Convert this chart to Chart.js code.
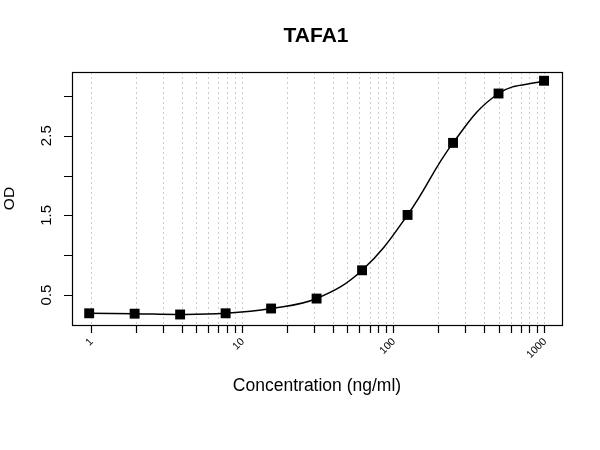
<!DOCTYPE html>
<html>
<head>
<meta charset="utf-8">
<script src="https://cdn.jsdelivr.net/npm/chart.js@4/dist/chart.umd.min.js"></script>
<style>
  html, body { margin: 0; padding: 0; background: #fff; }
  #wrap { width: 600px; height: 450px; }
</style>
</head>
<body>
<div id="wrap"><canvas id="odChart" width="600" height="450"></canvas></div>
<script>
  // standard curve
  const concentrations = [0.977, 1.953, 3.906, 7.8125, 15.625, 31.25, 62.5, 125, 250, 500, 1000];
  const odValues = [0.27, 0.265, 0.255, 0.27, 0.33, 0.455, 0.81, 1.505, 2.41, 3.03, 3.19];

  const xGridValues = [1, 2, 3, 4, 5, 6, 7, 8, 9, 10, 20, 30, 40, 50, 60, 70, 80, 90,
    100, 200, 300, 400, 500, 600, 700, 800, 900, 1000];
  const xTickValues = [1, 10, 100, 1000];
  const xTickLabels = ['1', '10', '100', '1000'];
  const yTickValues = [0.5, 1, 1.5, 2, 2.5, 3];
  const yTickLabels = ['0.5', '', '1.5', '', '2.5', ''];

  const chartTitle = 'TAFA1';
  const xTitle = 'Concentration (ng/ml)';
  const yTitle = 'OD';

  const FONT = '"Liberation Sans", Arial, sans-serif';

  function drawRotated(ctx, text, x, y, angle, align) {
    ctx.save();
    ctx.translate(x, y);
    ctx.rotate(angle);
    ctx.textAlign = align;
    ctx.textBaseline = 'middle';
    ctx.fillText(text, 0, 0);
    ctx.restore();
  }

  const rPlotPlugin = {
    id: 'rPlot',
    beforeDatasetsDraw(chart) {
      const { ctx, chartArea, scales } = chart;
      ctx.save();
      ctx.strokeStyle = '#cccccc';
      ctx.lineWidth = 1;
      ctx.setLineDash([2, 3]);
      xGridValues.forEach((v) => {
        const px = Math.round(scales.x.getPixelForValue(v)) + 0.5;
        ctx.beginPath();
        ctx.moveTo(px, chartArea.top);
        ctx.lineTo(px, chartArea.bottom);
        ctx.stroke();
      });
      ctx.restore();
    },
    afterDatasetsDraw(chart) {
      const { ctx, chartArea, scales } = chart;
      const { left, right, top, bottom } = chartArea;
      ctx.save();
      ctx.strokeStyle = '#000';
      ctx.fillStyle = '#000';
      ctx.lineWidth = 1.2;

      // box
      ctx.strokeRect(left + 0.5, top + 0.5, right - left, bottom - top);

      // x ticks
      ctx.beginPath();
      xGridValues.forEach((v) => {
        const px = Math.round(scales.x.getPixelForValue(v)) + 0.5;
        ctx.moveTo(px, bottom);
        ctx.lineTo(px, bottom + 8);
      });
      // y ticks
      yTickValues.forEach((v) => {
        const py = Math.round(scales.y.getPixelForValue(v)) + 0.5;
        ctx.moveTo(left, py);
        ctx.lineTo(left - 8, py);
      });
      ctx.stroke();

      ctx.font = `10.5px ${FONT}`;
      xTickValues.forEach((v, i) => {
        const px = scales.x.getPixelForValue(v);
        drawRotated(ctx, xTickLabels[i], px + 1, bottom + 15, -Math.PI / 4, 'right');
      });

      ctx.font = `15px ${FONT}`;
      yTickValues.forEach((v, i) => {
        if (!yTickLabels[i]) return;
        const py = scales.y.getPixelForValue(v);
        drawRotated(ctx, yTickLabels[i], left - 25.5, py, -Math.PI / 2, 'center');
      });

      // titles
      const cx = (left + right) / 2;
      ctx.font = `bold 21px ${FONT}`;
      drawRotated(ctx, chartTitle, cx - 1, 36, 0, 'center');
      ctx.font = `17.5px ${FONT}`;
      drawRotated(ctx, xTitle, cx, 386, 0, 'center');
      ctx.font = `15.5px ${FONT}`;
      drawRotated(ctx, yTitle, 9.5, (top + bottom) / 2, -Math.PI / 2, 'center');
      ctx.restore();
    },
  };

  new Chart(document.getElementById('odChart'), {
    type: 'line',
    data: {
      datasets: [{
        data: concentrations.map((c, i) => ({ x: c, y: odValues[i] })),
        borderColor: '#000',
        borderWidth: 1.5,
        backgroundColor: '#000',
        pointStyle: 'rect',
        pointRadius: 7,
        pointBorderWidth: 0,
        tension: 0.4,
        fill: false,
      }],
    },
    options: {
      responsive: false,
      animation: false,
      devicePixelRatio: 1,
      layout: {
        padding: { top: 72, right: 38, bottom: 125, left: 72 },
      },
      scales: {
        x: { type: 'logarithmic', min: 0.752, max: 1315, display: false },
        y: { type: 'linear', min: 0.123, max: 3.30, display: false },
      },
      plugins: {
        legend: { display: false },
        title: { display: false },
        tooltip: { enabled: false },
      },
    },
    plugins: [rPlotPlugin],
  });
</script>
</body>
</html>
